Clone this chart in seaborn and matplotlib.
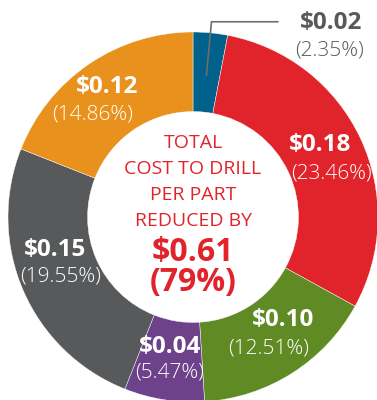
import numpy as np
import matplotlib
matplotlib.use("Agg")
import matplotlib.pyplot as plt
import seaborn as sns

# Savings per part by cost component
amounts = ["$0.02", "$0.18", "$0.10", "$0.04", "$0.15", "$0.12"]
shares = [2.35, 23.46, 12.51, 5.47, 19.55, 14.86]
colors = ["#00618A", "#E1242B", "#5F8A24", "#6D428B", "#58595B", "#E8911D"]
text_colors = ["#58595B", "white", "white", "white", "white", "white"]

center_lines = ["TOTAL", "COST TO DRILL", "PER PART", "REDUCED BY"]
total_amount = "$0.61"
total_share = "(79%)"

sns.set_theme(style="white")
plt.rcParams["font.family"] = ["Open Sans", "DejaVu Sans"]

W, H = 377, 400
fig = plt.figure(figsize=(W / 100, H / 100), dpi=100)
ax = fig.add_axes([0, 0, 1, 1])

# Pixel geometry of the ring
cx, cy, R = 193, 217, 185


def px(x, y):
    return (x - cx) / R, (cy - y) / R


wedges, _ = ax.pie(
    shares, colors=colors, startangle=90, counterclock=False,
    radius=1.0, wedgeprops=dict(width=0.43, edgecolor="white", linewidth=0.3),
)

ax.set_xlim(-cx / R, (W - cx) / R)
ax.set_ylim(-(H - cy) / R, cy / R)
ax.set_aspect("equal")
ax.axis("off")

# Label anchors (pixels) for value and share lines
value_pos = [(331, 23), (320, 145), (283, 320), (170, 347), (55, 250), (107, 87)]
share_pos = [(330, 50), (331, 173), (269, 348), (170, 373), (61, 277), (93, 115)]

for amt, sh, vp, sp, tc in zip(amounts, shares, value_pos, share_pos, text_colors):
    ax.text(*px(*vp), amt, ha="center", va="center", fontsize=17.5,
            fontweight="bold", color=tc)
    ax.text(*px(*sp), f"({sh:.2f}%)", ha="center", va="center", fontsize=15,
            fontweight="light", color=tc)

# Leader line for the smallest slice
w0 = wedges[0]
mid = np.deg2rad((w0.theta1 + w0.theta2) / 2)
p0 = (0.77 * np.cos(mid), 0.77 * np.sin(mid))
p1 = (1.06 * np.cos(mid), 1.06 * np.sin(mid))
p2 = (px(278, 0)[0], p1[1])
ax.plot([p0[0], p1[0], p2[0]], [p0[1], p1[1], p2[1]], color="#6D6E70", lw=1.2,
        solid_joinstyle="miter")

# Center text
red = "#E1242B"
line_y = [143, 169, 195, 221]
for t, yy in zip(center_lines, line_y):
    ax.text(*px(cx, yy), t, ha="center", va="center", fontsize=14, color=red)
ax.text(*px(cx, 252), total_amount, ha="center", va="center", fontsize=23,
        fontweight="bold", color=red)
ax.text(*px(cx, 282), total_share, ha="center", va="center", fontsize=23,
        fontweight="bold", color=red)

fig.savefig("out.png", dpi=100, facecolor="white")
